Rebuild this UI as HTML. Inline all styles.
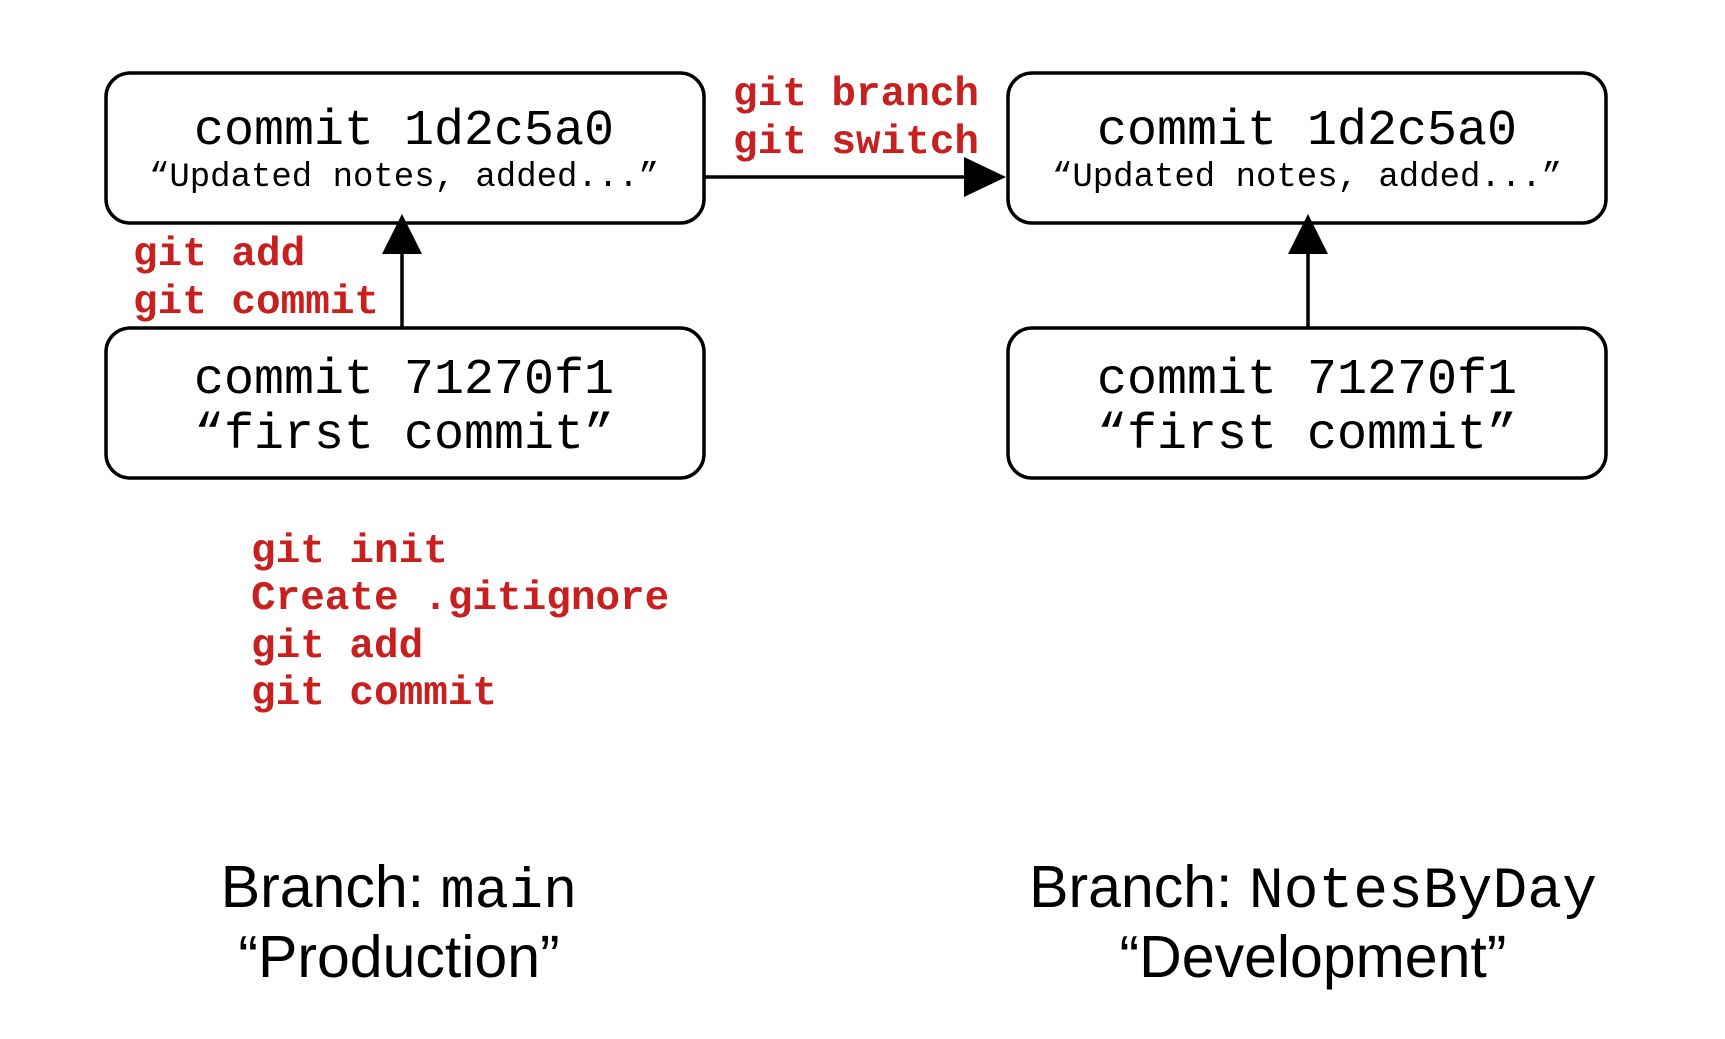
<!DOCTYPE html>
<html><head><meta charset="utf-8"><style>html,body{margin:0;padding:0;background:#fff;}svg{display:block}</style></head>
<body>
<svg width="1725" height="1039" viewBox="0 0 1725 1039" xmlns="http://www.w3.org/2000/svg">
<g fill="#fff" stroke="#000" stroke-width="3.5">
<rect x="106" y="73" width="598" height="150" rx="24"/>
<rect x="106" y="328" width="598" height="150" rx="24"/>
<rect x="1008" y="73" width="598" height="150" rx="24"/>
<rect x="1008" y="328" width="598" height="150" rx="24"/>
</g>
<g stroke="#000" stroke-width="3.5">
<line x1="704" y1="177" x2="970" y2="177"/>
<line x1="402" y1="328" x2="402" y2="250"/>
<line x1="1308" y1="328" x2="1308" y2="250"/>
</g>
<g fill="#000">
<polygon points="964,157 1006,177 964,197"/>
<polygon points="382,254 402,214 422,254"/>
<polygon points="1288,254 1308,214 1328,254"/>
</g>
<g font-family="Liberation Mono, monospace" fill="#000" text-anchor="middle">
<text x="404" y="144" font-size="50">commit 1d2c5a0</text>
<text x="404" y="186" font-size="34">“Updated notes, added...”</text>
<text x="404" y="393" font-size="50">commit 71270f1</text>
<text x="404" y="448" font-size="50">“first commit”</text>
<text x="1307" y="144" font-size="50">commit 1d2c5a0</text>
<text x="1307" y="186" font-size="34">“Updated notes, added...”</text>
<text x="1307" y="393" font-size="50">commit 71270f1</text>
<text x="1307" y="448" font-size="50">“first commit”</text>
</g>
<g font-family="Liberation Mono, monospace" font-weight="bold" fill="#c8201f" font-size="41">
<text x="733" y="105">git branch</text>
<text x="733" y="153">git switch</text>
<text x="133" y="265">git add</text>
<text x="133" y="313">git commit</text>
<text x="251" y="562">git init</text>
<text x="251" y="609">Create .gitignore</text>
<text x="251" y="657">git add</text>
<text x="251" y="704">git commit</text>
</g>
<g font-family="Liberation Sans, sans-serif" font-size="59" fill="#000" text-anchor="middle">
<text x="399" y="907">Branch: <tspan font-family="Liberation Mono, monospace" font-size="57">main</tspan></text>
<text x="399" y="977">“Production”</text>
<text x="1313" y="907">Branch: <tspan font-family="Liberation Mono, monospace" font-size="58">NotesByDay</tspan></text>
<text x="1313" y="977">“Development”</text>
</g>
</svg>
</body></html>
